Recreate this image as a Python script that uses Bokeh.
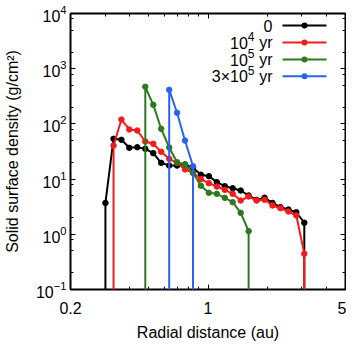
import math
from bokeh.plotting import figure
from bokeh.models import (LogAxis, FixedTicker, BasicTickFormatter, CustomJSTickFormatter,
                          Label, Arrow, BoxAnnotation)
from bokeh.embed import file_html
from bokeh.resources import INLINE

# ---------------- data ----------------
radius = [0.301, 0.331, 0.363, 0.398, 0.437, 0.480, 0.527, 0.578, 0.635, 0.696,
          0.764, 0.839, 0.920, 1.010, 1.109, 1.217, 1.335, 1.466, 1.609, 1.766,
          1.938, 2.127, 2.335, 2.563, 2.812, 3.087]
zero_level = 1e-3  # zero surface density (drawn as drop to the axis floor)

sigma_t0 = [3.7, 53.7, 51.5, 36.9, 37.8, 35.3, 29.5, 19.7, 17.6, 17.6,
            18.4, 16.0, 12.0, 11.3, 8.8, 7.44, 6.84, 6.21, 5.05, 4.2,
            4.6, 3.7, 3.10, 2.81, 2.51, 1.62]
start_t0 = 0
sigma_1e4 = [40.6, 120, 79.4, 75.9, 48.0, 43.6, 31.3, 23.3, 19.7, 15.0,
             13.0, 10.0, 8.43, 7.34, 6.4, 5.42, 4.09, 4.84, 4.09, 4.22,
             3.33, 2.97, 2.59, 2.19, 0.444]
start_1e4 = 1
sigma_1e5 = [470, 222, 81.5, 37.4, 20.2, 18.4, 13.0, 7.6, 5.65, 5.42,
             4.58, 3.82, 2.45, 1.14]
start_1e5 = 5
sigma_3e5 = [415, 159, 50.0, 17.1]
start_3e5 = 8

colors = ["#000000", "#f51b1b", "#2b7a1b", "#2a62f2"]
legend_main = ["0", "10", "10", "3\u00d710"]
legend_sup = ["", "4", "5", "5"]
legend_tail = ["", "yr", "yr", "yr"]

x_major = [0.2, 1, 5]
x_minor = [0.3, 0.4, 0.5, 0.6, 0.7, 0.8, 0.9, 2, 3, 4]
y_major = [0.1, 1, 10, 100, 1000, 10000]
y_minor = [0.2, 0.5, 0.8, 2, 5, 8, 20, 50, 80, 200, 500, 800, 2000, 5000, 8000]

FONT = "Liberation Sans"
X0, X1 = 0.2, 5
Y0, Y1 = 0.1, 1e4
FW, FH = 275, 276

p = figure(x_axis_type="log", y_axis_type="log", x_range=(X0, X1), y_range=(Y0, Y1),
           frame_width=FW, frame_height=FH, output_backend="svg", toolbar_location=None,
           min_border_left=69, min_border_top=13, min_border_right=1, min_border_bottom=46,
           background_fill_color="white", border_fill_color="white")
p.grid.visible = False
p.outline_line_color = "black"
p.outline_line_width = 2


def style_axis(ax):
    ax.axis_line_color = None
    ax.major_tick_in = 5
    ax.major_tick_out = 0
    ax.minor_tick_in = 3
    ax.minor_tick_out = 0
    ax.major_tick_line_color = "black"
    ax.minor_tick_line_color = "black"
    ax.major_tick_line_width = 1
    ax.minor_tick_line_width = 1
    ax.major_label_text_font = FONT
    ax.major_label_text_font_size = "16px"
    ax.major_label_text_color = "black"
    ax.axis_label_text_font = FONT
    ax.axis_label_text_font_size = "16px"
    ax.axis_label_text_font_style = "normal"
    ax.axis_label_text_color = "black"


xticker = FixedTicker(ticks=x_major, minor_ticks=x_minor)
yticker = FixedTicker(ticks=y_major, minor_ticks=y_minor)

xa = p.xaxis[0]
xa.ticker = xticker
xa.formatter = BasicTickFormatter()
style_axis(xa)
xa.axis_label = "Radial distance (au)"
xa.major_label_standoff = 12
xa.axis_label_standoff = 7

ya = p.yaxis[0]
ya.ticker = yticker
style_axis(ya)
ya.axis_label = "Solid surface density (g/cm\u00b2)"
ya.major_label_standoff = 4
ya.axis_label_standoff = 12

blank = CustomJSTickFormatter(code="return ''")
right = LogAxis(ticker=yticker, formatter=blank)
style_axis(right)
right.major_label_standoff = 0
p.add_layout(right, "right")
top = LogAxis(ticker=xticker, formatter=blank)
style_axis(top)
top.major_label_standoff = 0
p.add_layout(top, "above")

# ---------------- series ----------------
for vals, start, col in [(sigma_t0, start_t0, colors[0]), (sigma_1e4, start_1e4, colors[1]),
                         (sigma_1e5, start_1e5, colors[2]), (sigma_3e5, start_3e5, colors[3])]:
    n = len(vals)
    xs = [radius[start]] + radius[start:start + n] + [radius[start + n - 1]]
    ys = [zero_level] + list(vals) + [zero_level]
    p.line(xs, ys, line_color=col, line_width=2)
    p.scatter(radius[start:start + n], vals, size=5.5, marker="circle",
              fill_color=col, line_color=col)


# ---------------- legend (gnuplot style: text left, sample right) ----------------
# legend layout given in pixels from the frame's top-left corner, mapped through the log axes
def lx(px):
    return X0 * 10 ** (px / FW * math.log10(X1 / X0))


def ly(py):
    return Y1 / 10 ** (py / FH * math.log10(Y1 / Y0))


row_py = [12, 29, 46, 62.7]
text_right = 202
sample_x0, sample_x1, marker_x = 212, 256, 234
for i in range(4):
    py = row_py[i]
    col = colors[i]
    if legend_tail[i]:
        p.add_layout(Label(x=lx(text_right), y=ly(py), text=legend_tail[i],
                           text_align="right", text_baseline="middle",
                           text_font=FONT, text_font_size="16px", text_color="black"))
        sup_right = text_right - 18
        p.add_layout(Label(x=lx(sup_right), y=ly(py - 6), text=legend_sup[i],
                           text_align="right", text_baseline="middle",
                           text_font=FONT, text_font_size="12px", text_color="black"))
        main_right = sup_right - 6.7
    else:
        main_right = text_right
    p.add_layout(Label(x=lx(main_right), y=ly(py), text=legend_main[i],
                       text_align="right", text_baseline="middle",
                       text_font=FONT, text_font_size="16px", text_color="black"))
    p.add_layout(Arrow(x_start=lx(sample_x0), y_start=ly(py), x_end=lx(sample_x1), y_end=ly(py),
                       end=None, line_color=col, line_width=2))
    p.add_layout(BoxAnnotation(left=lx(marker_x - 3), right=lx(marker_x + 3),
                               bottom=ly(py + 3), top=ly(py - 3),
                               fill_color=col, fill_alpha=1, line_color=None,
                               border_radius=3))

open("out.html", "w").write(file_html(p, INLINE))
